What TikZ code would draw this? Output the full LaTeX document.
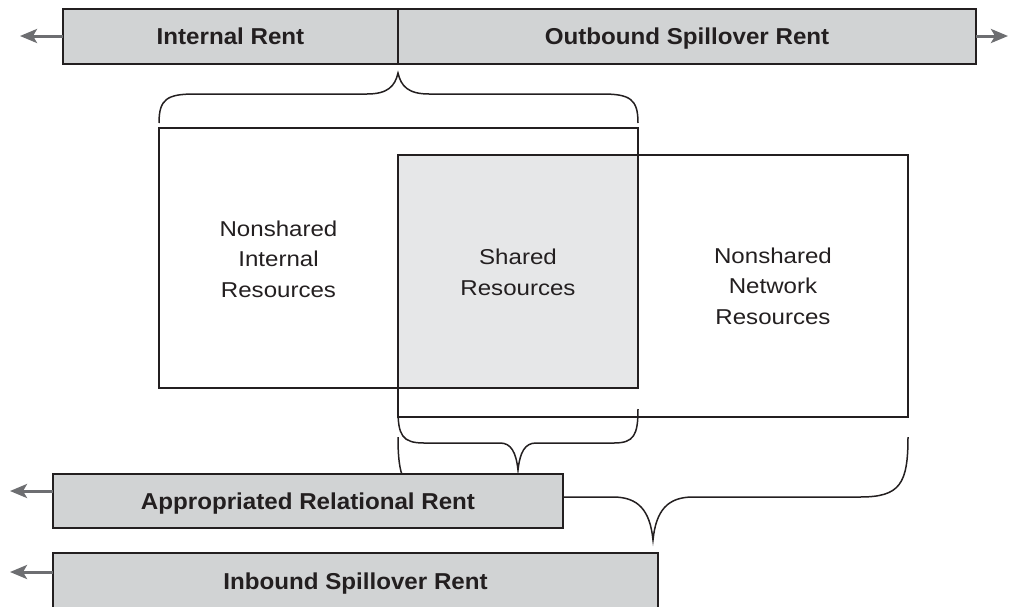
\documentclass[tikz,border=0pt]{standalone}
\usepackage{fontspec}
\setmainfont{Liberation Sans}
\newfontfamily\regfont{Liberation Sans}[FakeStretch=1.12]
\newfontfamily\boldfont{Liberation Sans}[FakeStretch=1.05]
\usetikzlibrary{arrows.meta}
\definecolor{lc}{HTML}{231F20}
\definecolor{barfill}{HTML}{D1D3D4}
\definecolor{sharedfill}{HTML}{E6E7E8}
\definecolor{arrc}{HTML}{6D6E71}
\definecolor{txt}{HTML}{231F20}
\begin{document}
\begin{tikzpicture}[x=1pt,y=-1pt,
  bar/.style={draw=lc, line width=2pt, fill=barfill, inner sep=0pt, outer sep=0pt,
    text depth=0pt, font=\boldfont\bfseries\fontsize{23}{27}\selectfont, text=txt},
  region/.style={draw=lc, line width=1.5pt, inner sep=0pt, outer sep=0pt},
  lab/.style={align=center, inner sep=0pt, text depth=0pt,
    font=\regfont\fontsize{21.5}{30.5}\selectfont, text=txt},
  arr/.style={draw=arrc, line width=3pt, -{Stealth[length=17pt,width=14pt,inset=4pt]}},
  brace/.style={draw=lc, line width=1.5pt}
]
\useasboundingbox (0,0) rectangle (1010,606);

% resource regions
\node[region, minimum width=479pt, minimum height=260pt] (L) at (398.5,258) {};
\node[region, minimum width=510pt, minimum height=262pt] (R) at (653,286) {};
\node[region, fill=sharedfill, minimum width=240pt, minimum height=233pt] (S) at (518,271.5) {};

\node[lab] (tL) at (278.5,259) {Nonshared\\Internal\\Resources};
\node[lab] (tS) at (518,272) {Shared\\Resources};
\node[lab] (tR) at (773,286) {Nonshared\\Network\\Resources};

% braces
\draw[brace] (159,123) .. controls (159,99) and (167,94) .. (195,94) -- (367,94)
  .. controls (388,94) and (395,86) .. (398,73)
  .. controls (401,86) and (408,94) .. (429,94) -- (602,94)
  .. controls (630,94) and (638,99) .. (638,123);
\draw[brace] (398,409) .. controls (398,435) and (402,443) .. (424,443) -- (500,443)
  .. controls (511,443) and (516,452) .. (518,470)
  .. controls (520,452) and (525,443) .. (536,443) -- (614,443)
  .. controls (634,443) and (638,435) .. (638,409);
\draw[brace] (398,437) .. controls (398,484) and (406,497) .. (446,497) -- (613,497)
  .. controls (638,497) and (650,510) .. (653,540)
  .. controls (656,510) and (668,497) .. (693,497) -- (860,497)
  .. controls (900,497) and (908,484) .. (908,437);

% rent bars
\node[bar, minimum width=335pt, minimum height=55pt] (int) at (230.5,36.5) {Internal Rent};
\node[bar, minimum width=578pt, minimum height=55pt] (out) at (687,36.5) {Outbound Spillover Rent};
\node[bar, minimum width=510pt, minimum height=54pt] (app) at (308,501) {Appropriated Relational Rent};
\node[bar, minimum width=605pt, minimum height=56pt] (inb) at (355.5,581) {Inbound Spillover Rent};

% arrows
\coordinate (a1) at (20,36);
\coordinate (a2) at (1008,36);
\coordinate (a3) at (10,491);
\coordinate (a4) at (10,572);
\draw[arr] (int.west |- a1) -- (a1);
\draw[arr] (out.east |- a2) -- (a2);
\draw[arr] (app.west |- a3) -- (a3);
\draw[arr] (inb.west |- a4) -- (a4);
\end{tikzpicture}
\end{document}
